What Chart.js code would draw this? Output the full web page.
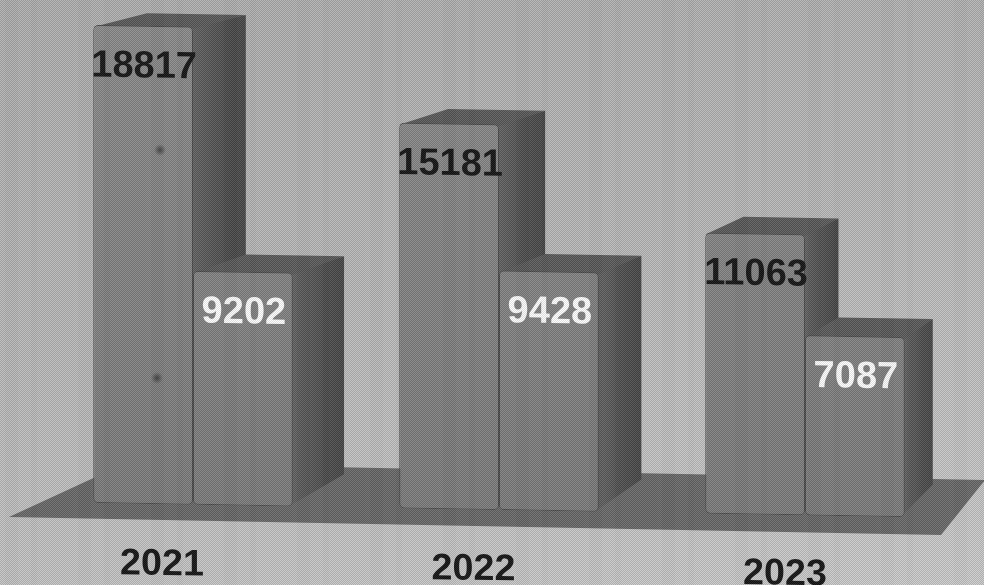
<!DOCTYPE html>
<html>
<head>
<meta charset="utf-8">
<title>Chart</title>
<script src="https://cdn.jsdelivr.net/npm/chart.js@4/dist/chart.umd.min.js"></script>
<style>
  html, body { margin: 0; padding: 0; }
  body { width: 984px; height: 585px; overflow: hidden; position: relative;
    background: linear-gradient(170deg, #aeaeae 0%, #b8b8b8 45%, #cbcbcb 100%); }
  #wrap { position: absolute; left: 0; top: 0; width: 984px; height: 585px; }
  /* scan look: halftone, faint vertical streaks and two specks on the first bar */
  #scan { position: absolute; left: 0; top: 0; width: 984px; height: 585px; pointer-events: none;
    background-image:
      radial-gradient(circle at 160px 150px, rgba(30,30,30,.6) 0, rgba(30,30,30,0) 6px),
      radial-gradient(circle at 157px 378px, rgba(30,30,30,.6) 0, rgba(30,30,30,0) 6px),
      repeating-conic-gradient(rgba(0,0,0,.13) 0 25%, rgba(255,255,255,.1) 0 50%),
      repeating-linear-gradient(90deg, rgba(255,255,255,.012) 0 5px, rgba(0,0,0,.01) 5px 18px, rgba(255,255,255,.01) 18px 31px, rgba(0,0,0,.012) 31px 37px, rgba(255,255,255,.008) 37px 73px);
    background-size: auto, auto, 2px 2px, auto; }
</style>
</head>
<body>
<div id="wrap"><canvas id="myChart" width="984" height="585"></canvas></div>
<div id="scan"></div>
<script>
const years = ["2021", "2022", "2023"];
const seriesDark = [18817, 15181, 11063];
const seriesLight = [9202, 9428, 7087];

// the photo is slightly tilted, everything runs downhill to the right
const tilt = 0.0173;

const depthX = (x) => 54 - Math.pow(x / 905, 2) * 26;
const depthTop = (v) => -(22 - v * 0.0005);
const depthBottom = -33;

function sideGradient(ctx, x0, x1) {
  const g = ctx.createLinearGradient(x0, 0, x1, 0);
  g.addColorStop(0, "#606060");
  g.addColorStop(0.6, "#4c4c4c");
  g.addColorStop(1, "#444444");
  return g;
}

const perspective = {
  id: "perspective",
  beforeDraw(chart) {
    // year labels sit further left than the bars and spread a bit wider
    const ctx = chart.ctx;
    ctx.save();
    ctx.transform(1.018, 0.016, 0, 1, -34.5, 0);
  },
  beforeDatasetsDraw(chart) {
    const ctx = chart.ctx;
    const area = chart.chartArea;
    const base = chart.scales.y.getPixelForValue(0);
    ctx.restore();
    ctx.save();
    ctx.transform(1, tilt, 0, 1, 0, 0);

    // floor
    ctx.fillStyle = "#676767";
    ctx.beginPath();
    ctx.moveTo(area.left - 31, base + 15.4);
    ctx.lineTo(area.left + 86, base - 40.6);
    ctx.lineTo(area.right + 27, base - 38.4);
    ctx.lineTo(area.right - 17, base + 17.3);
    ctx.closePath();
    ctx.fill();

    // top and side faces go behind all the fronts
    chart.data.datasets.forEach((ds, i) => {
      chart.getDatasetMeta(i).data.forEach((bar, j) => {
        const left = bar.x - bar.width / 2;
        const right = bar.x + bar.width / 2;
        const dl = depthX(left);
        const dr = depthX(right);
        const dt = depthTop(ds.data[j]);

        ctx.fillStyle = sideGradient(ctx, right, right + dr);
        ctx.beginPath();
        ctx.moveTo(right - 4, bar.y);
        ctx.lineTo(right + dr, bar.y + dt);
        ctx.lineTo(right + dr, bar.base + depthBottom);
        ctx.lineTo(right - 4, bar.base);
        ctx.closePath();
        ctx.fill();

        ctx.fillStyle = "#585858";
        ctx.beginPath();
        ctx.moveTo(left, bar.y + 2);
        ctx.lineTo(left + dl, bar.y + dt);
        ctx.lineTo(right + dr, bar.y + dt);
        ctx.lineTo(right, bar.y + 2);
        ctx.closePath();
        ctx.fill();
      });
    });
  },
  afterDatasetsDraw(chart) {
    const ctx = chart.ctx;
    ctx.textAlign = "center";
    ctx.textBaseline = "middle";
    ctx.font = "bold 38px 'Liberation Sans', Arial, sans-serif";
    chart.data.datasets.forEach((ds, i) => {
      ctx.fillStyle = i === 0 ? "#111111" : "#ffffff";
      chart.getDatasetMeta(i).data.forEach((bar, j) => {
        ctx.fillText(String(ds.data[j]), bar.x + 1, bar.y + 41);
      });
    });
    ctx.restore();
  }
};

const frontFill = (c) => {
  const { ctx, chartArea } = c.chart;
  if (!chartArea) return "#858585";
  const g = ctx.createLinearGradient(0, chartArea.top, 0, chartArea.bottom);
  g.addColorStop(0, "#8a8a8a");
  g.addColorStop(1, "#7a7a7a");
  return g;
};

new Chart(document.getElementById("myChart").getContext("2d"), {
  type: "bar",
  data: {
    labels: years,
    datasets: [
      { label: "Series 1", data: seriesDark, backgroundColor: frontFill, borderColor: "#474747", borderWidth: 1, borderRadius: 5, borderSkipped: false },
      { label: "Series 2", data: seriesLight, backgroundColor: frontFill, borderColor: "#474747", borderWidth: 1, borderRadius: 5, borderSkipped: false }
    ]
  },
  options: {
    responsive: false,
    animation: false,
    layout: { padding: { left: 40, right: 26, top: 6, bottom: 0 } },
    datasets: { bar: { categoryPercentage: 0.652, barPercentage: 1 } },
    plugins: { legend: { display: false }, tooltip: { enabled: false } },
    scales: {
      y: { display: false, min: 0, max: 19500 },
      x: {
        afterFit(scale) { scale.height = 83.6; },
        grid: { display: false, drawTicks: false },
        border: { display: false },
        ticks: {
          padding: 38,
          maxRotation: 0,
          color: "#111111",
          font: { family: "'Liberation Sans', Arial, sans-serif", size: 37, weight: "bold" }
        }
      }
    }
  },
  plugins: [perspective]
});
</script>
</body>
</html>
